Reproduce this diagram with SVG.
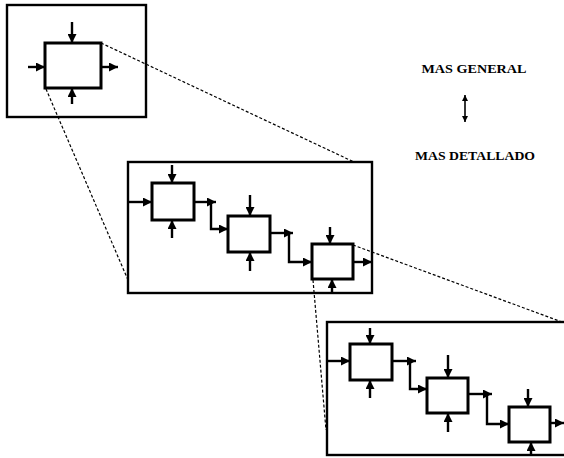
<svg xmlns="http://www.w3.org/2000/svg" width="564" height="458" viewBox="0 0 564 458">
<style>
.frame{fill:none;stroke:#000;stroke-width:2.4}
.box{fill:#fff;stroke:#000;stroke-width:3}
.arr{fill:none;stroke:#000;stroke-width:2.4;marker-end:url(#ah)}
.dash{fill:none;stroke:#000;stroke-width:1.2;stroke-dasharray:3 2}
.lbl{font-family:"Liberation Serif","Times New Roman",serif;font-weight:bold;font-size:13px;fill:#000}
</style>
<defs>
<marker id="ah" viewBox="0 0 10 10" refX="10" refY="5" markerWidth="10" markerHeight="9" markerUnits="userSpaceOnUse" orient="auto">
<path d="M0,0 L10,5 L0,10 z" fill="#000"/>
</marker>
<marker id="sh" viewBox="0 0 10 10" refX="10" refY="5" markerWidth="6" markerHeight="6" markerUnits="userSpaceOnUse" orient="auto-start-reverse">
<path d="M0,0 L10,5 L0,10 z" fill="#000"/>
</marker>
</defs>
<rect width="564" height="458" fill="#fff"/>

<g id="frame-top"><rect class="frame" x="7" y="5" width="139" height="112"/></g>
<g id="frame-mid"><rect class="frame" x="128" y="162" width="244" height="131"/></g>
<g id="frame-low"><rect class="frame" x="327" y="322" width="245" height="133"/></g>

<g id="top-box"><rect class="box" x="45" y="43" width="56" height="45"/></g>
<g id="mid-box1"><rect class="box" x="152" y="183" width="42" height="37"/></g>
<g id="mid-box2"><rect class="box" x="228" y="216" width="42" height="36"/></g>
<g id="mid-box3"><rect class="box" x="312" y="244" width="41" height="35"/></g>
<g id="low-box1"><rect class="box" x="350" y="344" width="42" height="36"/></g>
<g id="low-box2"><rect class="box" x="427" y="378" width="41" height="35"/></g>
<g id="low-box3"><rect class="box" x="509" y="407" width="41" height="35"/></g>

<g id="connectors">
<line class="dash" x1="101" y1="43" x2="354" y2="162"/>
<line class="dash" x1="46" y1="89" x2="128" y2="280"/>
<line class="dash" x1="353" y1="245" x2="562" y2="322"/>
<line class="dash" x1="313" y1="280" x2="326" y2="430"/>

<line class="arr" x1="72" y1="22" x2="72" y2="43"/>
<line class="arr" x1="28" y1="67" x2="45" y2="67"/>
<line class="arr" x1="101" y1="67" x2="118" y2="67"/>
<line class="arr" x1="72" y1="104" x2="72" y2="88"/>

<line class="arr" x1="172" y1="165" x2="172" y2="183"/>
<line class="arr" x1="172" y1="238" x2="172" y2="220"/>
<line class="arr" x1="128" y1="202" x2="152" y2="202"/>
<line class="arr" x1="194" y1="202" x2="216" y2="202"/>
<polyline class="arr" points="211,202 211,229 228,229"/>
<line class="arr" x1="250" y1="195" x2="250" y2="216"/>
<line class="arr" x1="250" y1="271" x2="250" y2="252"/>
<line class="arr" x1="270" y1="233" x2="293" y2="233"/>
<polyline class="arr" points="289,233 289,262 312,262"/>
<line class="arr" x1="330" y1="227" x2="330" y2="244"/>
<line class="arr" x1="332" y1="293" x2="332" y2="279"/>
<line class="arr" x1="353" y1="262" x2="372" y2="262"/>

<line class="arr" x1="370" y1="328" x2="370" y2="344"/>
<line class="arr" x1="370" y1="398" x2="370" y2="380"/>
<line class="arr" x1="327" y1="361" x2="350" y2="361"/>
<line class="arr" x1="392" y1="361" x2="416" y2="361"/>
<polyline class="arr" points="410,361 410,389 427,389"/>
<line class="arr" x1="448" y1="355" x2="448" y2="378"/>
<line class="arr" x1="448" y1="432" x2="448" y2="413"/>
<line class="arr" x1="468" y1="394" x2="492" y2="394"/>
<polyline class="arr" points="487,394 487,424 509,424"/>
<line class="arr" x1="528" y1="389" x2="528" y2="407"/>
<line class="arr" x1="531" y1="455" x2="531" y2="442"/>
<line class="arr" x1="550" y1="423" x2="564" y2="423"/>

<line x1="465" y1="95" x2="465" y2="122" stroke="#000" stroke-width="1.6" marker-start="url(#sh)" marker-end="url(#sh)"/>
</g>

<g id="label-general"><text class="lbl" x="474" y="73" text-anchor="middle" textLength="105" lengthAdjust="spacingAndGlyphs">MAS GENERAL</text></g>
<g id="label-detallado"><text class="lbl" x="475" y="160" text-anchor="middle" textLength="120" lengthAdjust="spacingAndGlyphs">MAS DETALLADO</text></g>
</svg>
